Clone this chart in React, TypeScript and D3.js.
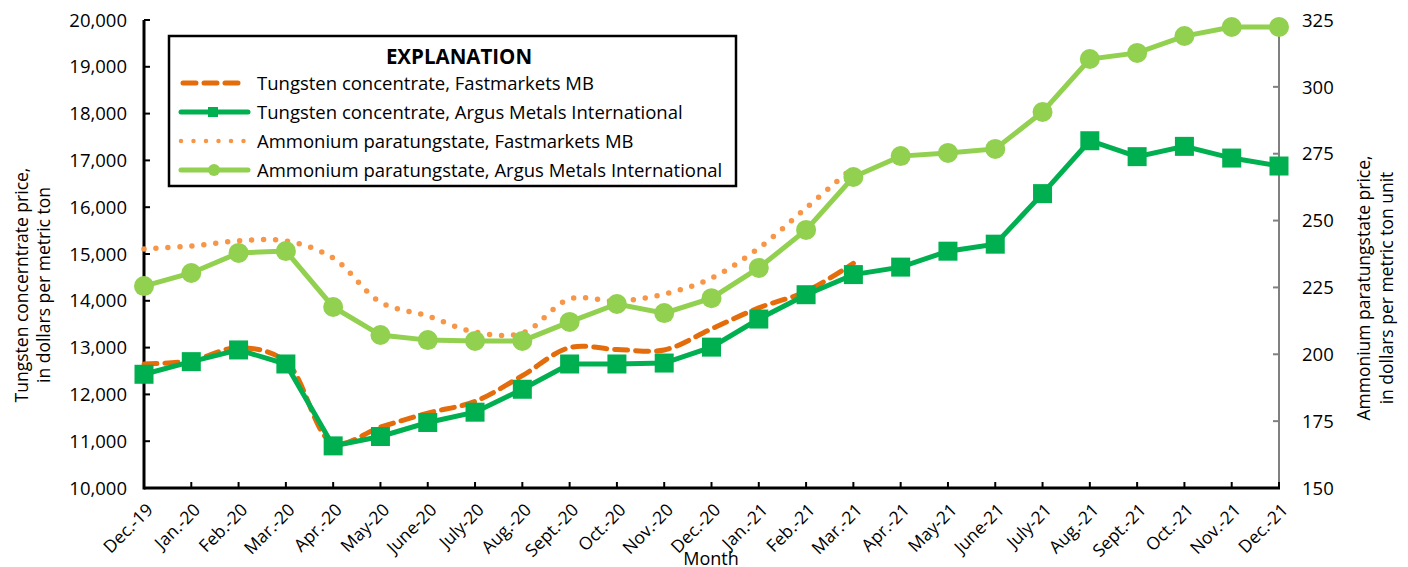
import React from "react";
import * as d3 from "d3";

const months = [
  "Dec.-19", "Jan.-20", "Feb.-20", "Mar.-20", "Apr.-20", "May-20", "June-20", "July-20",
  "Aug.-20", "Sept.-20", "Oct.-20", "Nov.-20", "Dec.-20", "Jan.-21", "Feb.-21", "Mar.-21",
  "Apr.-21", "May-21", "June-21", "July-21", "Aug.-21", "Sept.-21", "Oct.-21", "Nov.-21", "Dec.-21",
];

// Tungsten concentrate (left axis, $/t)
const tcFastmarkets = [
  12650, 12720, 13000, 12700, 10960, 11300, 11600, 11850, 12400, 13000, 12960, 12950, 13400,
  13850, 14200, 14800,
];
const tcArgus = [
  12430, 12700, 12950, 12650, 10900, 11100, 11400, 11620, 12110, 12650, 12650, 12670, 13010,
  13610, 14130, 14560, 14720, 15060, 15210, 16290, 17420, 17080, 17300, 17050, 16880,
];
// Ammonium paratungstate (right axis, $/mtu)
const aptFastmarkets = [
  239.4, 240.5, 242.4, 242.4, 236.0, 219.5, 214.3, 208.3, 207.9, 220.7, 219.9, 222.5, 228.5,
  239.7, 254.7, 270.0,
];
const aptArgus = [
  225.5, 230.4, 237.9, 238.6, 217.7, 207.2, 205.3, 205.0, 205.0, 212.1, 218.8, 215.4, 221.0,
  232.3, 246.5, 266.3, 274.1, 275.3, 276.8, 290.6, 310.4, 312.7, 319.0, 322.4, 322.4,
];

const leftTicks = [10000, 11000, 12000, 13000, 14000, 15000, 16000, 17000, 18000, 19000, 20000];
const rightTicks = [150, 175, 200, 225, 250, 275, 300, 325];

const legendItems = [
  "Tungsten concentrate, Fastmarkets MB",
  "Tungsten concentrate, Argus Metals International",
  "Ammonium paratungstate, Fastmarkets MB",
  "Ammonium paratungstate, Argus Metals International",
];

const C_DASH = "#E46C0A";
const C_SQ = "#00B050";
const C_DOT = "#F79646";
const C_CIR = "#92D050";
const FONT = "'Open Sans', 'Noto Sans', sans-serif";

export default function App() {
  const W = 1408, H = 567;
  const L = 144, R = 1279, T = 20, B = 488;
  const x = d3.scalePoint<string>().domain(months).range([L, R]);
  const yL = d3.scaleLinear().domain([10000, 20000]).range([B, T]);
  const yR = d3.scaleLinear().domain([150, 325]).range([B, T]);

  const lineL = (vals: number[], curve: d3.CurveFactory) =>
    d3.line<number>().x((_, i) => x(months[i])!).y((v) => yL(v)).curve(curve)(vals) || "";
  const lineR = (vals: number[], curve: d3.CurveFactory) =>
    d3.line<number>().x((_, i) => x(months[i])!).y((v) => yR(v)).curve(curve)(vals) || "";

  const smooth = d3.curveCatmullRom.alpha(0.5);

  return (
    <svg width={W} height={H} style={{ display: "block", position: "absolute", left: 0, top: 0 }}
      fontFamily={FONT}>
      <rect x={0} y={0} width={W} height={H} fill="#fff" />

      {/* Left axis ticks and labels */}
      {leftTicks.map((t) => (
        <g key={"l" + t}>
          <line x1={L} x2={L + 6} y1={yL(t)} y2={yL(t)} stroke="#000" strokeWidth={2} />
          <text x={127} y={yL(t)} dy="0.36em" textAnchor="end" fontSize={18.5} fill="#000">
            {d3.format(",")(t)}
          </text>
        </g>
      ))}
      {/* Right axis */}
      <line x1={R} x2={R} y1={T} y2={B} stroke="#808080" strokeWidth={2} />
      {rightTicks.map((t) => (
        <g key={"r" + t}>
          <line x1={R - 6} x2={R} y1={yR(t)} y2={yR(t)} stroke="#808080" strokeWidth={2} />
          <text x={1302} y={yR(t)} dy="0.36em" textAnchor="start" fontSize={18.5} fill="#000">
            {t}
          </text>
        </g>
      ))}
      {/* Bottom ticks */}
      {months.map((m) => (
        <line key={"t" + m} x1={x(m)!} x2={x(m)!} y1={B} y2={B - 6} stroke="#000" strokeWidth={2} />
      ))}
      <line x1={L} x2={L} y1={T} y2={B + 1.5} stroke="#000" strokeWidth={3} />
      <line x1={L} x2={R + 1} y1={B} y2={B} stroke="#000" strokeWidth={3} />

      {/* X labels */}
      {months.map((m) => (
        <text key={"x" + m} transform={`translate(${x(m)! + 10},${B + 23}) rotate(-45)`}
          textAnchor="end" fontSize={17.5} fill="#000">
          {m}
        </text>
      ))}
      <text x={711} y={565} textAnchor="middle" fontSize={18} fill="#000">Month</text>

      {/* Axis titles */}
      <text transform={`translate(28,285) rotate(-90)`} textAnchor="middle" fontSize={17.5} fill="#000">
        <tspan x={0} dy={0}>Tungsten concerntrate price,</tspan>
        <tspan x={0} dy={22}>in dollars per metric ton</tspan>
      </text>
      <text transform={`translate(1370,288) rotate(-90)`} textAnchor="middle" fontSize={17.5} fill="#000">
        <tspan x={0} dy={0}>Ammonium paratungstate price,</tspan>
        <tspan x={0} dy={23}>in dollars per metric ton unit</tspan>
      </text>

      {/* APT Fastmarkets dotted */}
      <path d={lineR(aptFastmarkets, smooth)} fill="none" stroke={C_DOT} strokeWidth={5.5}
        strokeDasharray="0 12" strokeLinecap="round" />
      {/* APT Argus */}
      <path d={lineR(aptArgus, d3.curveLinear)} fill="none" stroke={C_CIR} strokeWidth={5} />
      {aptArgus.map((v, i) => (
        <circle key={"c" + i} cx={x(months[i])!} cy={yR(v)} r={10} fill={C_CIR} />
      ))}
      {/* TC Fastmarkets dashed */}
      <path d={lineL(tcFastmarkets, smooth)} fill="none" stroke={C_DASH} strokeWidth={5}
        strokeDasharray="13 8" strokeLinecap="round" />
      {/* TC Argus */}
      <path d={lineL(tcArgus, d3.curveLinear)} fill="none" stroke={C_SQ} strokeWidth={5} />
      {tcArgus.map((v, i) => (
        <rect key={"s" + i} x={x(months[i])! - 9.5} y={yL(v) - 9.5} width={19} height={19} fill={C_SQ} />
      ))}

      {/* Legend */}
      <g>
        <rect x={169} y={36} width={567} height={150} fill="#fff" stroke="#000" strokeWidth={2.5} />
        <text x={459} y={64} textAnchor="middle" fontSize={20.5} fontWeight="bold" fill="#000">EXPLANATION</text>
        {legendItems.map((lab, i) => {
          const yy = 83 + i * 29;
          return (
            <g key={"lg" + i}>
              {i === 0 && (
                <line x1={183} x2={246} y1={yy} y2={yy} stroke={C_DASH} strokeWidth={5}
                  strokeDasharray="13 8" strokeLinecap="round" />
              )}
              {i === 1 && (
                <g>
                  <line x1={181} x2={248} y1={yy} y2={yy} stroke={C_SQ} strokeWidth={5} strokeLinecap="round" />
                  <rect x={208} y={yy - 5} width={10} height={10} fill={C_SQ} />
                </g>
              )}
              {i === 2 && (
                <line x1={181} x2={248} y1={yy} y2={yy} stroke={C_DOT} strokeWidth={4.5}
                  strokeDasharray="0 12.5" strokeLinecap="round" />
              )}
              {i === 3 && (
                <g>
                  <line x1={181} x2={248} y1={yy} y2={yy} stroke={C_CIR} strokeWidth={5} strokeLinecap="round" />
                  <circle cx={214} cy={yy} r={6} fill={C_CIR} />
                </g>
              )}
              <text x={257} y={yy} dy="0.36em" fontSize={18.5} fill="#000">{lab}</text>
            </g>
          );
        })}
      </g>
    </svg>
  );
}
